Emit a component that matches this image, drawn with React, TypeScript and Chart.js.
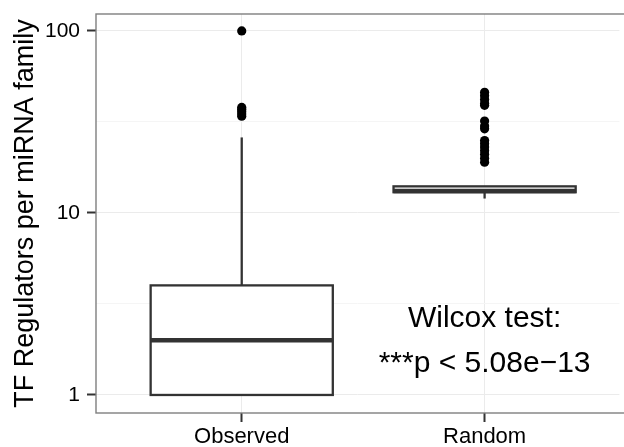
import { useEffect, useRef } from "react";
import { Chart, registerables } from "chart.js";

Chart.register(...registerables);

const FONT = "'Liberation Sans', Arial, Helvetica, sans-serif";

const categories = ["Observed", "Random"];
const whiskerLow = [1, 12];
const quartile1 = [1, 13];
const medians = [2, 13.2];
const quartile3 = [4, 14];
const whiskerHigh = [26, 14];
const outliersObserved = [100, 38, 37, 36, 35, 34];
const outliersRandom = [46, 44, 42, 40, 39, 32, 30, 29, 25, 24, 23, 22, 21, 20, 19];
const yMajorTicks = [1, 10, 100];
const yMinorTicks = [3.1623, 31.623];
const annotationLines = ["Wilcox test:", "***p < 5.08e\u221213"];
const annotationY = [2.36, 1.33];
const yTitle = "TF Regulators per miRNA family";

const boxPlugin = {
  id: "boxPlugin",
  beforeDatasetsDraw(chart: any) {
    const { ctx, scales } = chart;
    const xs = scales.x;
    const ys = scales.y;
    ctx.save();
    ctx.strokeStyle = "#333333";
    categories.forEach((_, i) => {
      const xc = xs.getPixelForValue(i + 1);
      const xl = xs.getPixelForValue(i + 1 - 0.375);
      const xr = xs.getPixelForValue(i + 1 + 0.375);
      const yq1 = ys.getPixelForValue(quartile1[i]);
      const yq3 = ys.getPixelForValue(quartile3[i]);
      const ymed = ys.getPixelForValue(medians[i]);
      const ylo = ys.getPixelForValue(whiskerLow[i]);
      const yhi = ys.getPixelForValue(whiskerHigh[i]);
      ctx.lineWidth = 2.3;
      ctx.beginPath();
      ctx.moveTo(xc, yq3);
      ctx.lineTo(xc, yhi);
      ctx.moveTo(xc, yq1);
      ctx.lineTo(xc, ylo);
      ctx.stroke();
      ctx.fillStyle = "#ffffff";
      ctx.fillRect(xl, yq3, xr - xl, yq1 - yq3);
      ctx.strokeRect(xl, yq3, xr - xl, yq1 - yq3);
      ctx.lineWidth = 4.5;
      ctx.beginPath();
      ctx.moveTo(xl, ymed);
      ctx.lineTo(xr, ymed);
      ctx.stroke();
    });
    ctx.restore();
  },
  afterDatasetsDraw(chart: any) {
    const { ctx, scales, chartArea } = chart;
    const xs = scales.x;
    const ys = scales.y;
    ctx.save();
    ctx.fillStyle = "#000000";
    ctx.font = `30px ${FONT}`;
    ctx.textAlign = "center";
    ctx.textBaseline = "alphabetic";
    annotationLines.forEach((t, i) => {
      ctx.fillText(t, xs.getPixelForValue(2), ys.getPixelForValue(annotationY[i]));
    });
    ctx.strokeStyle = "#7f7f7f";
    ctx.lineWidth = 1.4;
    ctx.strokeRect(chartArea.left, chartArea.top, chartArea.right - chartArea.left + 20, chartArea.bottom - chartArea.top);
    // y axis title
    ctx.translate(33, (chartArea.top + chartArea.bottom) / 2);
    ctx.rotate(-Math.PI / 2);
    ctx.font = `27px ${FONT}`;
    ctx.textAlign = "center";
    ctx.textBaseline = "alphabetic";
    ctx.fillText(yTitle, 0, 0);
    ctx.restore();
  },
};

export default function App() {
  const ref = useRef<HTMLCanvasElement | null>(null);
  useEffect(() => {
    document.body.style.margin = "0";
    const canvas = ref.current;
    if (!canvas) return;
    const isMinor = (v: number) => yMinorTicks.some((m) => Math.abs(m - v) < 1e-3);
    const chart = new Chart(canvas, {
      type: "scatter",
      data: {
        datasets: [
          {
            data: [
              ...outliersObserved.map((v) => ({ x: 1, y: v })),
              ...outliersRandom.map((v) => ({ x: 2, y: v })),
            ],
            pointRadius: 4.6,
            pointBackgroundColor: "#000000",
            pointBorderWidth: 0,
            borderWidth: 0,
          },
        ],
      },
      options: {
        animation: false,
        responsive: false,
        maintainAspectRatio: false,
        layout: { padding: { top: 14, left: 0, right: 0, bottom: 0 } },
        plugins: { legend: { display: false }, tooltip: { enabled: false } },
        scales: {
          x: {
            type: "linear",
            min: 0.4,
            max: 2.555,
            afterBuildTicks: (s: any) => {
              s.ticks = [{ value: 1 }, { value: 2 }];
            },
            afterFit: (s: any) => {
              s.height = 34;
              s.paddingLeft = 0;
              s.paddingRight = 0;
            },
            grid: {
              color: "#ebebeb",
              lineWidth: 1,
              tickColor: "#333333",
              tickLength: 9,
              tickWidth: 2,
            },
            border: { display: false },
            ticks: {
              callback: (v: any) => categories[Math.round(Number(v)) - 1] ?? "",
              font: { family: FONT, size: 22 },
              color: "#000000",
              padding: 2,
              maxRotation: 0,
              autoSkip: false,
            },
          },
          y: {
            type: "logarithmic",
            min: 0.796,
            max: 123.9,
            afterBuildTicks: (s: any) => {
              s.ticks = [...yMajorTicks, ...yMinorTicks]
                .sort((a, b) => a - b)
                .map((v) => ({ value: v }));
            },
            afterFit: (s: any) => {
              s.width = 96;
              s.paddingTop = 0;
              s.paddingBottom = 0;
            },
            grid: {
              color: (c: any) => (c.tick && isMinor(c.tick.value) ? "#f5f5f5" : "#ebebeb"),
              lineWidth: 1,
              tickColor: (c: any) => (c.tick && isMinor(c.tick.value) ? "rgba(0,0,0,0)" : "#333333"),
              tickLength: 9,
              tickWidth: 2,
            },
            border: { display: false },
            ticks: {
              callback: (v: any) => (isMinor(Number(v)) ? "" : String(v)),
              font: { family: FONT, size: 21 },
              color: "#000000",
              padding: 7,
              autoSkip: false,
            },
          },
        },
      },
      plugins: [boxPlugin],
    } as any);
    return () => chart.destroy();
  }, []);
  return (
    <div style={{ width: 624, height: 447, overflow: "hidden" }}>
      <canvas ref={ref} width={624} height={447} style={{ display: "block" }} />
    </div>
  );
}
